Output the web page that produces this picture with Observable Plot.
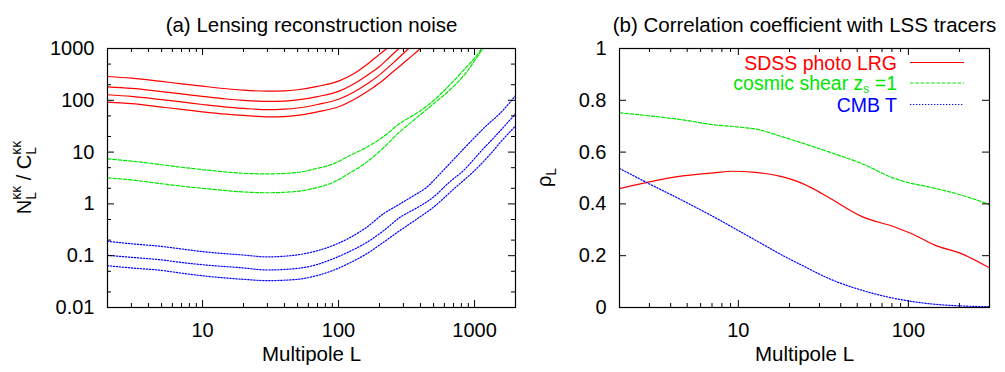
<!DOCTYPE html>
<html><head><meta charset="utf-8">
<script src="https://cdn.jsdelivr.net/npm/d3@7"></script>
<script src="https://cdn.jsdelivr.net/npm/@observablehq/plot@0.6"></script>
<style>
body{margin:0;background:#fff}
#wrap{position:relative;width:1005px;height:372px;background:#fff}
#wrap svg{position:absolute;top:0}
</style>
</head><body><div id="wrap"></div>
<script>
const FONT = '"Liberation Sans", Arial, Helvetica, sans-serif';

// ---- Panel (a): N_L / C_L (L, value) ----
const noiseLRG1 = [[2,288],[3,267],[5,231],[7,208],[10,187],[15,167],[20,157],[30,150],[40,152],[50,160],[70,186],[100,235],[130,330],[170,545],[200,770],[226,1000],[260,1400]];
const noiseLRG2 = [[2,182],[3,170],[5,147],[7,133],[10,119],[15,106],[20,100],[30,95],[40,96.5],[50,101.5],[70,118],[100,149],[130,209],[170,330],[200,450],[240,700],[278,1000],[320,1400]];
const noiseLRG3 = [[2,128],[3,119],[5,103],[7,93],[10,83],[15,74],[20,70],[30,66],[40,67.5],[50,71],[70,83],[100,105],[130,145],[170,225],[200,310],[250,516],[290,740],[328,1000],[380,1400]];
const noiseLRG4 = [[2,92],[3,86],[5,74],[7,67],[10,60],[15,54],[20,51],[30,48],[40,48.6],[50,51.2],[70,60],[100,75],[130,104],[170,160],[200,215],[250,351],[300,525],[350,737],[400,1000],[460,1400]];
const noiseShear1 = [[2,7.4],[3,6.7],[5,5.7],[7,5.1],[10,4.6],[20,3.9],[30,3.8],[50,4.05],[66,4.7],[91,5.9],[120,8.5],[161,12.4],[220,21],[283,36],[340,48],[400,63],[500,99],[660,200],[880,450],[1000,650],[1130,1000],[1250,1400]];
const noiseShear2 = [[2,3.19],[3,2.9],[5,2.45],[7,2.2],[10,2.0],[20,1.7],[30,1.64],[50,1.75],[66,2.0],[91,2.6],[120,3.9],[161,6.4],[220,13],[283,25],[317,32],[400,53],[500,86],[660,160],[880,360],[1000,580],[1150,1000],[1260,1400]];
const noiseCMB1 = [[2,0.19],[3,0.17],[5,0.151],[7,0.135],[10,0.12],[20,0.103],[30,0.095],[50,0.104],[66,0.12],[91,0.157],[120,0.22],[161,0.355],[213,0.64],[283,1.0],[350,1.4],[445,2.1],[557,3.8],[700,7.2],[877,13.4],[1232,33],[1550,57],[2000,123]];
const noiseCMB2 = [[2,0.102],[3,0.093],[5,0.083],[7,0.074],[10,0.067],[20,0.058],[30,0.053],[50,0.057],[66,0.065],[91,0.087],[120,0.12],[161,0.18],[213,0.3],[283,0.55],[380,0.85],[498,1.35],[650,2.6],[828,4.4],[1100,10],[1550,26],[2000,55]];
const noiseCMB3 = [[2,0.064],[3,0.058],[5,0.052],[7,0.046],[10,0.041],[20,0.035],[30,0.033],[50,0.035],[66,0.04],[91,0.052],[120,0.072],[161,0.109],[213,0.18],[283,0.306],[380,0.52],[498,0.86],[700,1.92],[1000,4.4],[1300,9],[1550,15.5],[2000,32]];

// ---- Panel (b): correlation coefficient rho_L ----
const rhoLRG = [[2,0.459],[3,0.485],[4.7,0.508],[7.4,0.521],[9.2,0.526],[12.6,0.522],[18,0.505],[22,0.488],[27,0.462],[34,0.425],[53,0.352],[83,0.311],[104,0.286],[143,0.241],[205,0.208],[300,0.153]];
const rhoShear = [[2,0.752],[3,0.74],[5,0.722],[7,0.706],[10,0.697],[13.5,0.685],[17,0.665],[22,0.642],[34,0.601],[53,0.556],[83,0.498],[100,0.482],[131,0.466],[205,0.434],[300,0.398]];
const rhoCMBT = [[2,0.537],[2.9,0.482],[4.7,0.413],[7.4,0.345],[10,0.297],[13,0.255],[18,0.203],[25,0.155],[34,0.112],[53,0.067],[83,0.035],[131,0.015],[205,0.006],[300,0.003]];

// ---- ticks & labels ----
const xTicksA = [10, 100, 1000];
const xMinorA = [2,3,4,5,6,7,8,9,20,30,40,50,60,70,80,90,200,300,400,500,600,700,800,900,2000];
const yTicksA = [0.01, 0.1, 1, 10, 100, 1000];
const yMinorA = [0.02,0.05,0.2,0.5,2,5,20,50,200,500];
const xTicksB = [10, 100];
const xMinorB = [2,3,4,5,6,7,8,9,20,30,40,50,60,70,80,90,200,300];
const yTicksB = [0, 0.2, 0.4, 0.6, 0.8, 1];
const titleA = "(a) Lensing reconstruction noise";
const titleB = "(b) Correlation coefficient with LSS tracers";
const xLabel = "Multipole L";
const legendNames = ["SDSS photo LRG", "cosmic shear z", "CMB T"];

const RED = "#ff0000", GREEN = "#00e600", BLUE = "#0000ff";
const DASH = "3.5,1.8", DOT = "1.3,1.7";

function tickMarks(xMaj, xMin, yMaj, yMin, FW, FH) {
  const M = 7, m = 4, s = {stroke: "black", strokeWidth: 1};
  const out = [
    Plot.tickX(xMaj, {x: d => d, insetTop: FH - M, ...s}),
    Plot.tickX(xMaj, {x: d => d, insetBottom: FH - M, ...s}),
    Plot.tickX(xMin, {x: d => d, insetTop: FH - m, ...s}),
    Plot.tickX(xMin, {x: d => d, insetBottom: FH - m, ...s}),
    Plot.tickY(yMaj, {y: d => d, insetRight: FW - M, ...s}),
    Plot.tickY(yMaj, {y: d => d, insetLeft: FW - M, ...s})
  ];
  if (yMin.length) {
    out.push(Plot.tickY(yMin, {y: d => d, insetRight: FW - m, ...s}));
    out.push(Plot.tickY(yMin, {y: d => d, insetLeft: FW - m, ...s}));
  }
  return out;
}
const ln = (data, stroke, dash) => Plot.line(data, {x: d => d[0], y: d => d[1], stroke, strokeWidth: 1.2, strokeDasharray: dash, curve: "monotone-x", clip: true});
const style = {fontFamily: FONT, fontSize: "20px", color: "black", background: "transparent", overflow: "visible"};

const svgA = Plot.plot({
  width: 530, height: 372, marginLeft: 107, marginRight: 15, marginTop: 48, marginBottom: 65,
  style,
  x: {type: "log", domain: [2, 2000]},
  y: {type: "log", domain: [0.01, 1000]},
  marks: [
    ln(noiseLRG1, RED), ln(noiseLRG2, RED), ln(noiseLRG3, RED), ln(noiseLRG4, RED),
    ln(noiseShear1, GREEN, DASH), ln(noiseShear2, GREEN, DASH),
    ln(noiseCMB1, BLUE, DOT), ln(noiseCMB2, BLUE, DOT), ln(noiseCMB3, BLUE, DOT),
    ...tickMarks(xTicksA, xMinorA, yTicksA, yMinorA, 408, 259),
    Plot.frame({stroke: "black", strokeWidth: 1.2}),
    Plot.axisX(xTicksA, {anchor: "bottom", tickSize: 0, tickPadding: 15, label: null, tickFormat: d => String(d), fontSize: 20}),
    Plot.axisY(yTicksA, {anchor: "left", tickSize: 0, tickPadding: 13, label: null, tickFormat: d => String(d), fontSize: 20}),
    Plot.text([titleA], {frameAnchor: "top", dy: -31, text: d => d, fontSize: 20.5}),
    Plot.text([xLabel], {frameAnchor: "bottom", dy: 53, text: d => d, fontSize: 20.5})
  ]
});

const svgB = Plot.plot({
  width: 475, height: 372, marginLeft: 89, marginRight: 16, marginTop: 48, marginBottom: 65,
  style,
  x: {type: "log", domain: [2, 300]},
  y: {type: "linear", domain: [0, 1]},
  marks: [
    ln(rhoShear, GREEN, DASH), ln(rhoLRG, RED), ln(rhoCMBT, BLUE, DOT),
    ...tickMarks(xTicksB, xMinorB, yTicksB, [], 370, 259),
    Plot.frame({stroke: "black", strokeWidth: 1.2}),
    Plot.axisX(xTicksB, {anchor: "bottom", tickSize: 0, tickPadding: 15, label: null, tickFormat: d => String(d), fontSize: 20}),
    Plot.axisY(yTicksB, {anchor: "left", tickSize: 0, tickPadding: 13, label: null, tickFormat: d => String(d), fontSize: 20}),
    Plot.text([titleB], {frameAnchor: "top", dy: -31, text: d => d, fontSize: 20.5}),
    Plot.text([xLabel], {frameAnchor: "bottom", dy: 53, text: d => d, fontSize: 20.5})
  ]
});

const wrap = document.getElementById("wrap");
svgA.style.left = "0px";
svgB.style.left = "530px";
wrap.appendChild(svgA);
wrap.appendChild(svgB);

// ---- rotated y label (a): N_L^{kk} / C_L^{kk} ----
{
  const g = d3.select(svgA).append("g").attr("transform", "translate(31,177.5) rotate(-90)")
    .attr("font-family", FONT).attr("fill", "black");
  const m1 = g.append("text").attr("font-size", 14).text("κκ");
  const wk = m1.node().getComputedTextLength(); m1.remove();
  const m2 = g.append("text").attr("font-size", 14).text("L");
  const wL = m2.node().getComputedTextLength(); m2.remove();
  const t = g.append("text").attr("text-anchor", "middle").attr("font-size", 20);
  t.append("tspan").text("N");
  t.append("tspan").attr("font-size", 14).attr("dy", -10).text("κκ");
  t.append("tspan").attr("font-size", 14).attr("dx", -wk).attr("dy", 15).text("L");
  t.append("tspan").attr("font-size", 20).attr("dx", wk - wL).attr("dy", -5).text(" / C");
  t.append("tspan").attr("font-size", 14).attr("dy", -10).text("κκ");
  t.append("tspan").attr("font-size", 14).attr("dx", -wk).attr("dy", 15).text("L");
}
// ---- rotated y label (b): rho_L ----
{
  const g = d3.select(svgB).append("g").attr("transform", "translate(21,177.5) rotate(-90)")
    .attr("font-family", FONT).attr("fill", "black");
  const t = g.append("text").attr("text-anchor", "middle").attr("font-size", 20);
  t.append("tspan").text("ρ");
  t.append("tspan").attr("font-size", 14).attr("dy", 5).text("L");
}
// ---- legend (b) ----
{
  const g = d3.select(svgB).append("g").attr("font-family", FONT).attr("font-size", 19.5);
  const items = [
    {name: legendNames[0], color: RED, dash: null, y: 62.5},
    {name: legendNames[1], color: GREEN, dash: DASH, y: 83, sub: "s", after: " =1"},
    {name: legendNames[2], color: BLUE, dash: DOT, y: 104.5}
  ];
  for (const it of items) {
    const t = g.append("text").attr("x", 367).attr("y", it.y + 7).attr("text-anchor", "end").attr("fill", it.color);
    t.append("tspan").text(it.name);
    if (it.sub) {
      t.append("tspan").attr("font-size", 12).attr("dy", 3).text(it.sub);
      t.append("tspan").attr("dy", -3).text(it.after);
    }
    g.append("line").attr("x1", 380).attr("x2", 434).attr("y1", it.y).attr("y2", it.y)
      .attr("stroke", it.color).attr("stroke-width", 1.2).attr("stroke-dasharray", it.dash);
  }
}
</script>
</body></html>
